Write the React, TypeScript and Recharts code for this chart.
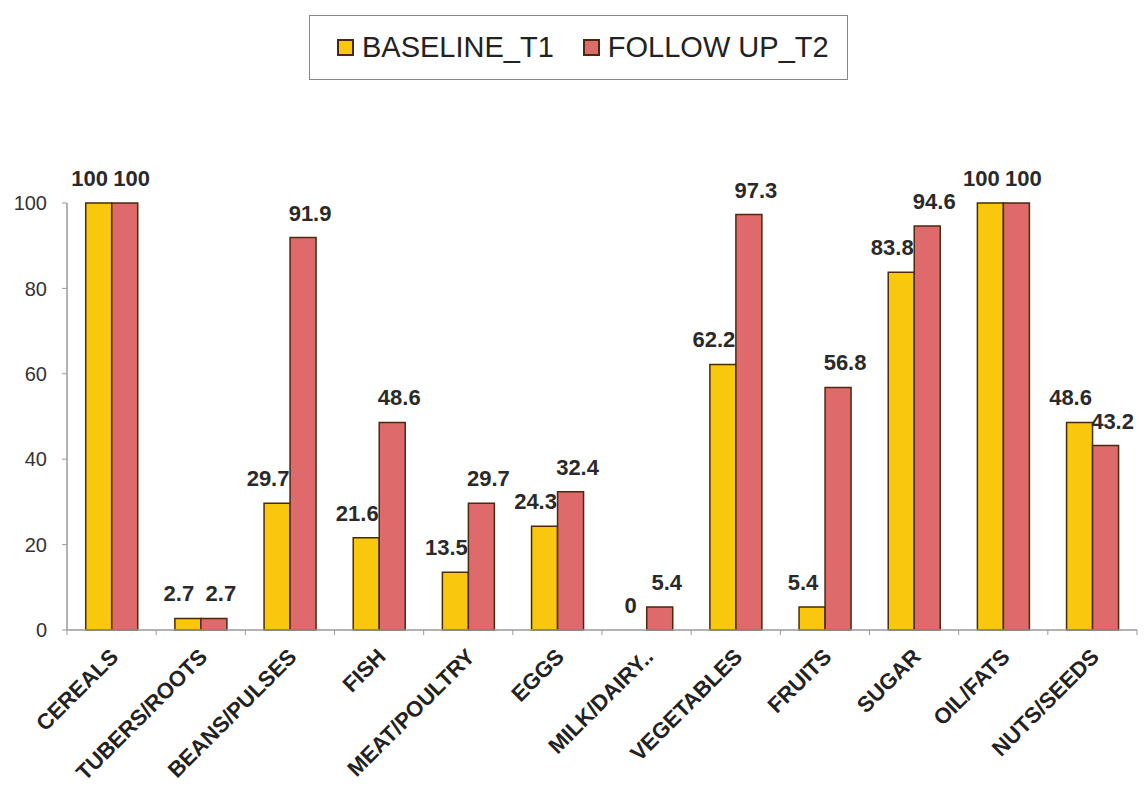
import React from 'react';
import { BarChart, Bar, XAxis, YAxis, LabelList } from 'recharts';

const categories = [
  'CEREALS',
  'TUBERS/ROOTS',
  'BEANS/PULSES',
  'FISH',
  'MEAT/POULTRY',
  'EGGS',
  'MILK/DAIRY..',
  'VEGETABLES',
  'FRUITS',
  'SUGAR',
  'OIL/FATS',
  'NUTS/SEEDS',
];
const baseline = [100, 2.7, 29.7, 21.6, 13.5, 24.3, 0, 62.2, 5.4, 83.8, 100, 48.6];
const followUp = [100, 2.7, 91.9, 48.6, 29.7, 32.4, 5.4, 97.3, 56.8, 94.6, 100, 43.2];
const yTicks = [0, 20, 40, 60, 80, 100];

const data = categories.map((name, i) => ({
  name,
  t1: baseline[i],
  t2: followUp[i],
}));

const W = 1147;
const H = 785;
const LEFT = 67;
const RIGHT = 10;
const BAND = (W - LEFT - RIGHT) / categories.length;
const Y0 = 630; // pixel row of the value 0 (top margin + plot height)

const FONT = '"Liberation Sans", Arial, sans-serif';
const YELLOW = '#F9C80E';
const RED = '#DE6A6C';
const EDGE = '#4a2a0c';

const CategoryTick = (props: any) => {
  const { x, y, payload, index } = props;
  const isLast = index === categories.length - 1;
  return (
    <g>
      <line x1={x - BAND / 2} x2={x - BAND / 2} y1={y - 8} y2={y - 3} stroke="#9a9a9a" />
      {isLast && (
        <line x1={x + BAND / 2} x2={x + BAND / 2} y1={y - 8} y2={y - 3} stroke="#9a9a9a" />
      )}
      <text
        x={x + 8}
        y={y + 20}
        transform={`rotate(-45 ${x + 8} ${y + 20})`}
        textAnchor="end"
        fontFamily={FONT}
        fontWeight="bold"
        fontSize={22}
        fill="#222"
      >
        {payload.value}
      </text>
    </g>
  );
};

const labelText = (cx: number, y: number, value: any) => (
  <text
    x={cx}
    y={y - 17}
    textAnchor="middle"
    fontFamily={FONT}
    fontWeight="bold"
    fontSize={22}
    fill="#2a2a2a"
  >
    {value}
  </text>
);

// value labels sit above each bar, nudged sideways a bit like the original
const baselineLabel = (p: any) =>
  labelText(Number(p.x) + Number(p.width) / 2 - 9, Number(p.y), p.value);

// Recharts skips zero-height bars, so the "0" of the baseline is drawn next to its partner
const followUpLabel = (p: any) => {
  const cx = Number(p.x) + Number(p.width) / 2;
  const zero = baseline[p.index] === 0;
  return (
    <g>
      {labelText(cx + 7, Number(p.y), p.value)}
      {zero && labelText(cx - Number(p.width) - 3, Y0, 0)}
    </g>
  );
};

const legendItems = [
  { label: 'BASELINE_T1', color: YELLOW },
  { label: 'FOLLOW UP_T2', color: RED },
];

export default function App() {
  return (
    <div style={{ position: 'absolute', left: 0, top: 0, width: W, height: H, background: '#fff' }}>
      <div
        style={{
          position: 'absolute',
          left: 309,
          top: 15,
          width: 539,
          height: 65,
          border: '1.5px solid #888',
          boxSizing: 'border-box',
          display: 'flex',
          alignItems: 'center',
          paddingLeft: 27,
          fontFamily: FONT,
          fontSize: 29,
          color: '#222',
        }}
      >
        {legendItems.map((it, i) => (
          <div
            key={it.label}
            style={{ display: 'flex', alignItems: 'center', marginLeft: i === 0 ? 0 : 29 }}
          >
            <span
              style={{
                display: 'inline-block',
                width: 13,
                height: 13,
                background: it.color,
                border: `2px solid ${EDGE}`,
                marginRight: 8,
              }}
            />
            {it.label}
          </div>
        ))}
      </div>
      <BarChart
        width={W}
        height={H}
        data={data}
        margin={{ top: 203, right: RIGHT, bottom: 15, left: 0 }}
        barCategoryGap="21%"
        barGap={0}
      >
        <XAxis
          dataKey="name"
          interval={0}
          height={140}
          tickLine={false}
          axisLine={{ stroke: '#9a9a9a', strokeWidth: 1.5 }}
          tick={<CategoryTick />}
        />
        <YAxis
          width={LEFT}
          domain={[0, 100]}
          ticks={yTicks}
          interval={0}
          axisLine={{ stroke: '#9a9a9a', strokeWidth: 1.5 }}
          tickLine={{ stroke: '#9a9a9a' }}
          tickSize={5}
          tickMargin={15}
          tick={{ fontFamily: FONT, fontSize: 20, fill: '#333' }}
        />
        <Bar dataKey="t1" fill={YELLOW} stroke={EDGE} strokeWidth={1.5} isAnimationActive={false}>
          <LabelList dataKey="t1" content={baselineLabel} />
        </Bar>
        <Bar dataKey="t2" fill={RED} stroke={EDGE} strokeWidth={1.5} isAnimationActive={false}>
          <LabelList dataKey="t2" content={followUpLabel} />
        </Bar>
      </BarChart>
    </div>
  );
}
